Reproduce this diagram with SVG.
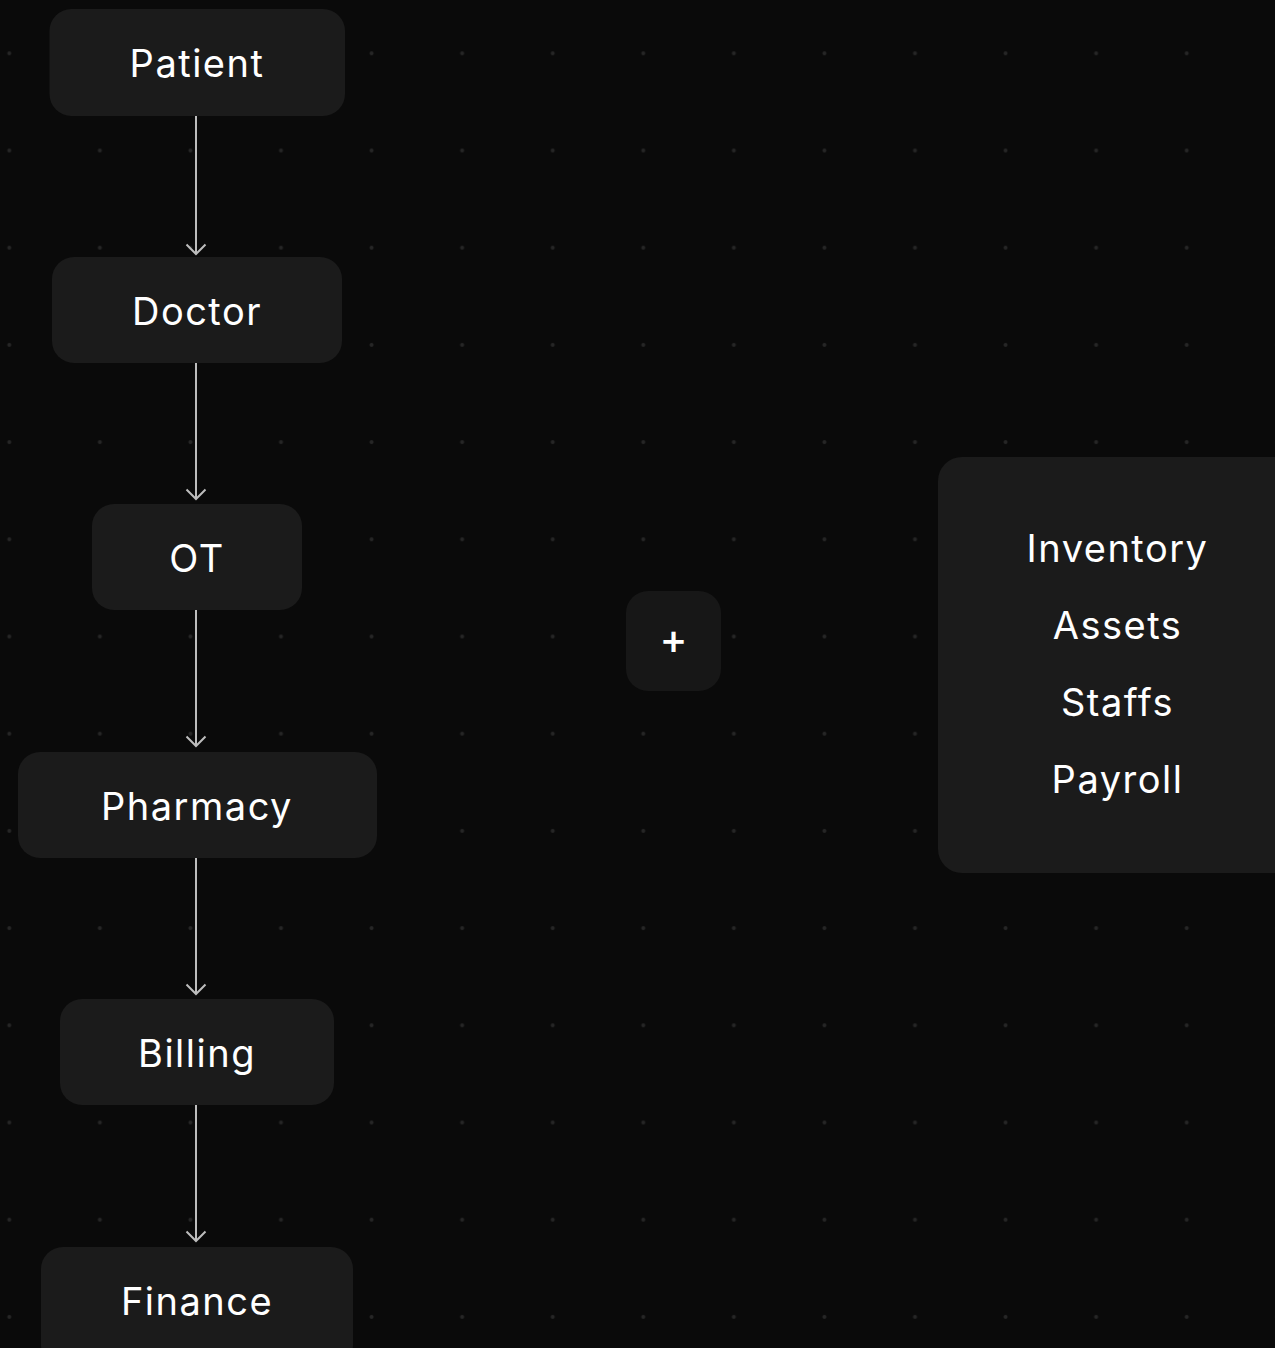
<svg xmlns="http://www.w3.org/2000/svg" width="1275" height="1348" viewBox="0 0 1275 1348">
<defs>
<pattern id="dots" patternUnits="userSpaceOnUse" x="-36" y="4.7" width="90.57" height="97.2">
<circle cx="45.3" cy="48.6" r="2" fill="#262626"/>
</pattern>
<marker id="arr" markerWidth="24" markerHeight="24" refX="12" refY="12" orient="auto" markerUnits="userSpaceOnUse" viewBox="0 0 24 24">
<path d="M2.5 2.5 L12 12 L2.5 21.5" fill="none" stroke="#bdbdbd" stroke-width="2"/>
</marker>
<style>
.node{fill:#1b1b1b}
.lbl{font-family:Inter,"Open Sans","Liberation Sans",sans-serif;font-size:38px;fill:#ffffff;text-anchor:middle;letter-spacing:1.5px}
.edge{stroke:#bdbdbd;stroke-width:2;fill:none;marker-end:url(#arr)}
</style>
</defs>
<rect width="1275" height="1348" fill="#0a0a0a"/>
<rect width="1275" height="1348" fill="url(#dots)"/>
<g id="connectors">
<line class="edge" x1="196" y1="116" x2="196" y2="254"/>
<line class="edge" x1="196" y1="363" x2="196" y2="499"/>
<line class="edge" x1="196" y1="610" x2="196" y2="746"/>
<line class="edge" x1="196" y1="858" x2="196" y2="994"/>
<line class="edge" x1="196" y1="1105" x2="196" y2="1241"/>
</g>
<g id="patient"><rect class="node" x="49.5" y="9" width="295.5" height="107" rx="22"/><text class="lbl" x="197" y="77">Patient</text></g>
<g id="doctor"><rect class="node" x="52" y="257" width="290" height="106" rx="22"/><text class="lbl" x="197" y="324.5">Doctor</text></g>
<g id="ot"><rect class="node" x="92" y="504" width="210" height="106" rx="22"/><text class="lbl" x="197" y="571.5">OT</text></g>
<g id="pharmacy"><rect class="node" x="18" y="752" width="359" height="106" rx="22"/><text class="lbl" x="197" y="819.5">Pharmacy</text></g>
<g id="billing"><rect class="node" x="60" y="999" width="274" height="106" rx="22"/><text class="lbl" x="197" y="1066.5">Billing</text></g>
<g id="finance"><rect class="node" x="41" y="1247" width="312" height="120" rx="22"/><text class="lbl" x="197" y="1314.5">Finance</text></g>
<g id="plus"><rect x="626" y="591" width="95" height="100" rx="22" fill="#171717"/><text class="lbl" x="673.5" y="654" style="font-size:42px;letter-spacing:0;font-weight:500">+</text></g>
<g id="resources"><rect class="node" x="938" y="457" width="380" height="416" rx="24"/>
<text class="lbl" x="1117.5" y="562">Inventory</text>
<text class="lbl" x="1117.5" y="639">Assets</text>
<text class="lbl" x="1117.5" y="716">Staffs</text>
<text class="lbl" x="1117.5" y="793">Payroll</text>
</g>
</svg>
